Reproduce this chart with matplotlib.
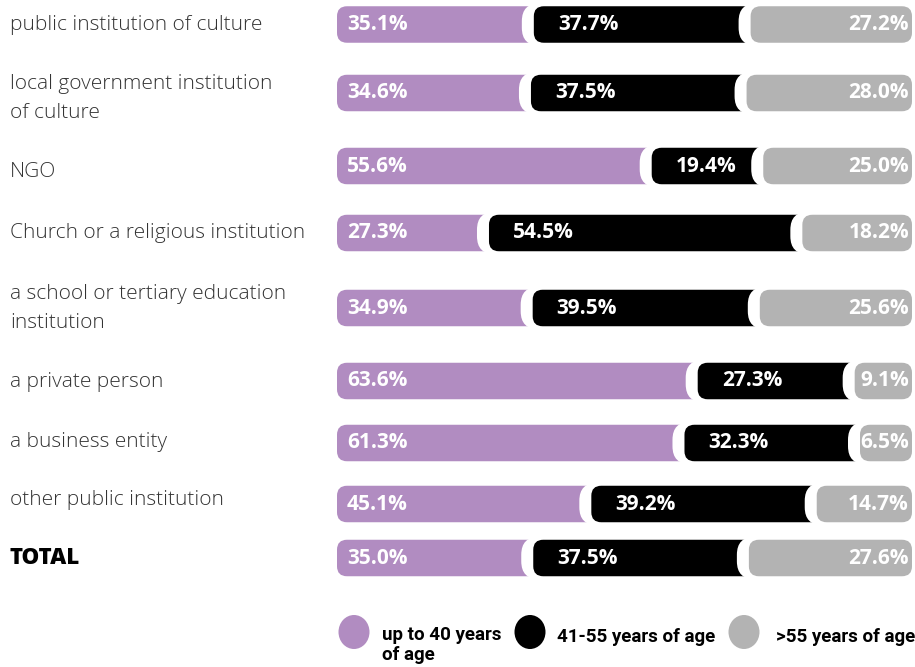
import numpy as np
import matplotlib
matplotlib.use("Agg")
from matplotlib import pyplot as plt
from matplotlib import transforms
from matplotlib.patches import FancyBboxPatch, Ellipse

# ---- data ----
categories = [
    "public institution of culture",
    "local government institution\nof culture",
    "NGO",
    "Church or a religious institution",
    "a school or tertiary education\ninstitution",
    "a private person",
    "a business entity",
    "other public institution",
    "TOTAL",
]
up_to_40 = [35.1, 34.6, 55.6, 27.3, 34.9, 63.6, 61.3, 45.1, 35.0]
age_41_55 = [37.7, 37.5, 19.4, 54.5, 39.5, 27.3, 32.3, 39.2, 37.5]
over_55 = [27.2, 28.0, 25.0, 18.2, 25.6, 9.1, 6.5, 14.7, 27.6]
series_names = ["up to 40 years\nof age", "41-55 years of age", ">55 years of age"]

# ---- layout (pixels) ----
W, H = 915, 667
bar_y = [24.5, 93, 166, 233, 308, 381, 443, 504, 558]
label_y = [25, 98, 172, 233, 309, 382, 442, 500, 558]
bar_h = 36.5
bar_left, bar_right = 337, 912
radius = 10
overlap = 5
halo = 12
min_seg = 52  # smallest pill width in pixels, so the label still fits
colors = ["#b18cc1", "#000000", "#b3b3b3"]

fig = plt.figure(figsize=(W / 100, H / 100), dpi=100)
ax = fig.add_axes([bar_left / W, 0, (bar_right - bar_left) / W, 1])
ax.set_xlim(0, 100)
ax.set_ylim(H, 0)
ax.axis("off")

px = (bar_right - bar_left) / 100  # pixels per percent unit

pct_font = dict(family="Open Sans", fontweight="bold", fontsize=15, color="white")

for i in range(len(categories)):
    vals = [up_to_40[i], age_41_55[i], over_55[i]]
    bounds = np.cumsum(vals)
    bounds[-1] = 100
    starts = [0, bounds[0] - overlap / px, bounds[1] - overlap / px]
    ends = [bounds[0], bounds[1], 100]
    starts[2] = min(starts[2], 100 - min_seg / px)
    yc = bar_y[i]
    for j in range(3):
        if j > 0:
            hb = FancyBboxPatch(
                (starts[j] - halo / px, yc - bar_h / 2 - 3),
                ends[j] - starts[j] + halo / px, bar_h + 6,
                boxstyle=f"round,pad=0,rounding_size={(radius + 8) / px}",
                mutation_aspect=px, fc="white", ec="none", clip_on=False,
                zorder=2 + j,
            )
            ax.add_patch(hb)
        fb = FancyBboxPatch(
            (starts[j], yc - bar_h / 2), ends[j] - starts[j], bar_h,
            boxstyle=f"round,pad=0,rounding_size={radius / px}",
            mutation_aspect=px, fc=colors[j], ec="none", clip_on=False,
            zorder=2 + j,
        )
        ax.add_patch(fb)

    ax.text(10 / px, yc, f"{vals[0]:.1f}%", ha="left", va="center", zorder=10, **pct_font)
    ax.text(bounds[0] + 19 / px, yc, f"{vals[1]:.1f}%", ha="left", va="center", zorder=10, **pct_font)
    ax.text(100 - 3 / px, yc, f"{vals[2]:.1f}%", ha="right", va="center", zorder=10, **pct_font)

# category labels
lab_tr = transforms.blended_transform_factory(fig.transFigure, ax.transData)
for cat, y in zip(categories, label_y):
    if cat == "TOTAL":
        fig.text(10 / W, y, cat, transform=lab_tr, ha="left", va="center",
                 family="Open Sans", fontweight="heavy", fontsize=16, color="black")
    else:
        fig.text(10 / W, y, cat, transform=lab_tr, ha="left", va="center",
                 family="Open Sans", fontweight="light", fontsize=15, color="#333333",
                 linespacing=1.6)

# legend
lax = fig.add_axes([0, 0, 1, 1])
lax.set_xlim(0, W)
lax.set_ylim(H, 0)
lax.axis("off")
leg_x = [354, 530, 744]
leg_tx = [382, 557, 776]
for j in range(3):
    lax.add_patch(Ellipse((leg_x[j], 632), 31, 34, color=colors[j], ec="none"))
    if j == 0:
        lax.text(leg_tx[j], 626, series_names[j], ha="left", va="top",
                 family="Roboto", fontweight="bold", fontsize=13.5, color="black",
                 linespacing=1.15)
    else:
        lax.text(leg_tx[j], 637, series_names[j], ha="left", va="center",
                 family="Roboto", fontweight="bold", fontsize=13.5, color="black")

fig.savefig("out.png", dpi=100)
